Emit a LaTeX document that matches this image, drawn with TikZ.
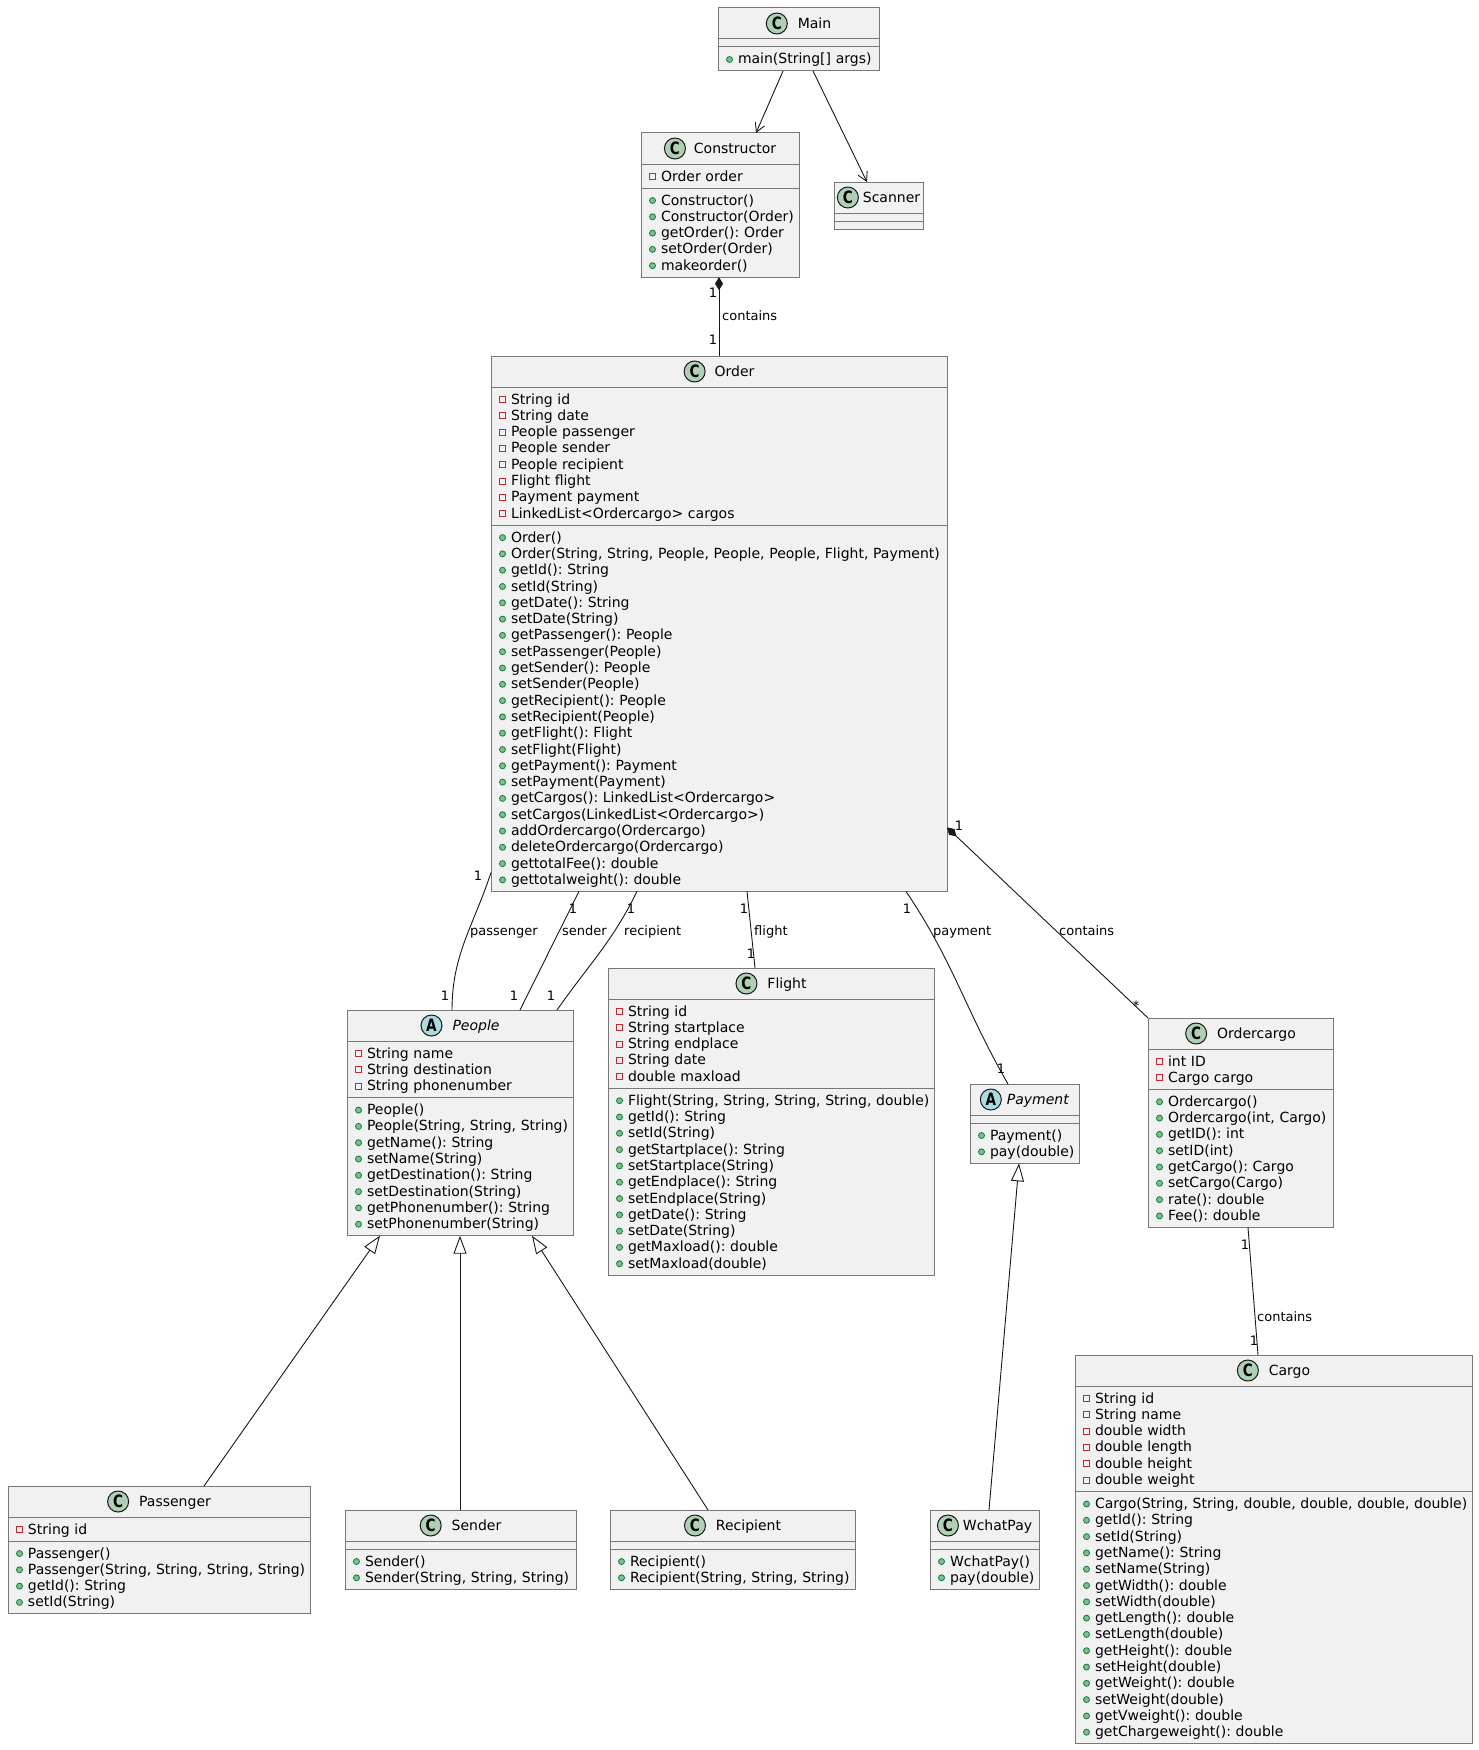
\documentclass[tikz,border=0pt]{standalone}
\usepackage{fontspec}
\setmainfont{DejaVu Sans}
\usepackage{graphicx}
\usepackage{tikz}
\usetikzlibrary{arrows.meta,positioning,calc}
\frenchspacing
\definecolor{clrFill}{RGB}{241,241,241}
\definecolor{clrBorder}{RGB}{120,120,120}
\definecolor{clrEdge}{RGB}{24,24,24}
\definecolor{clrC}{RGB}{173,209,178}
\definecolor{clrA}{RGB}{169,220,223}
\definecolor{clrPriv}{RGB}{200,41,48}
\definecolor{clrPubF}{RGB}{132,190,132}
\definecolor{clrPubD}{RGB}{3,128,72}
% one text line of a class box, with its marker
\newcommand{\mstrut}{\rule[-3pt]{0pt}{16pt}}
\newcommand{\fld}[1]{\mstrut\tikz{\useasboundingbox (0pt,0pt) rectangle (12pt,1pt);
  \draw[clrPriv,line width=1pt] (0.5pt,1.5pt) rectangle (6.5pt,7.5pt);}\mbox{#1}}
\newcommand{\mth}[1]{\mstrut\tikz{\useasboundingbox (0pt,0pt) rectangle (12pt,1pt);
  \draw[draw=clrPubD,fill=clrPubF,line width=0.8pt] (3.5pt,4.5pt) circle[radius=3pt];}\mbox{#1}}
\newcommand{\cicon}[2]{\tikz[baseline=-5pt]{\draw[draw=clrEdge,fill=#1,line width=1pt]
  (0pt,0pt) circle[radius=10.5pt];
  \pgftext{\scalebox{0.8}[1]{\fontsize{17}{17}\selectfont\bfseries #2}}}}
\tikzset{
  chead/.style={rectangle,draw=clrBorder,fill=clrFill,line width=1pt,outer sep=0pt,
    inner sep=0pt,minimum height=31pt,minimum width=#1,anchor=north west,
    font=\fontsize{14}{16.3}\selectfont},
  csec/.style={rectangle,draw=clrBorder,fill=clrFill,line width=1pt,outer sep=0pt,
    inner xsep=8pt,inner ysep=4pt,text width=#1,align=left,
    font=\fontsize{14}{16.3}\selectfont},
  cnone/.style={rectangle,draw=clrBorder,fill=clrFill,line width=1pt,outer sep=0pt,
    inner sep=0pt,minimum height=8pt,minimum width=#1},
  link/.style={draw=clrEdge,line width=0.9pt},
  depend/.style={link,-{Straight Barb[length=9pt,width=10pt]}},
  comp/.style={link,{Diamond[length=13pt,width=8pt]}-},
  inherit/.style={link,-{Triangle[length=18pt,width=13pt,fill=white]}},
  mult/.style={font=\fontsize{13}{15}\selectfont,inner sep=0pt,anchor=base},
  role/.style={font=\fontsize{13}{15}\selectfont,inner sep=0pt,anchor=base west}
}

\begin{document}
\begin{tikzpicture}[x=1pt,y=1pt]
  \path[use as bounding box,fill=white] (0,0) rectangle (1478,-1750);

  % top row
  \node[chead=161pt] (main) at (718,-8) {\cicon{clrC}{C}\hspace{10pt}Main};
  \node[cnone=161pt,below=0pt of main] (mainF) {};
  \node[csec=145pt,below=0pt of mainF] (mainM) {\mth{main(String[] args)}};

  \node[chead=158pt] (ctor) at (641,-133) {\cicon{clrC}{C}\hspace{8pt}Constructor};
  \node[csec=142pt,below=0pt of ctor] (ctorF) {\fld{Order order}};
  \node[csec=142pt,below=0pt of ctorF] (ctorM)
    {\mth{Constructor()}\\ \mth{Constructor(Order)}\\ \mth{getOrder(): Order}\\
     \mth{setOrder(Order)}\\ \mth{makeorder()}};

  \node[chead=89pt] (scan) at (834,-182) {\cicon{clrC}{C}\hspace{4pt}Scanner};
  \node[cnone=89pt,below=0pt of scan] (scanF) {};
  \node[cnone=89pt,below=0pt of scanF] (scanM) {};

  % order
  \node[chead=456pt] (order) at (491,-356) {\cicon{clrC}{C}\hspace{9pt}Order};
  \node[csec=440pt,below=0pt of order] (orderF)
    {\fld{String id}\\ \fld{String date}\\ \fld{People passenger}\\ \fld{People sender}\\
     \fld{People recipient}\\ \fld{Flight flight}\\ \fld{Payment payment}\\
     \fld{LinkedList<Ordercargo> cargos}};
  \node[csec=440pt,below=0pt of orderF] (orderM)
    {\mth{Order()}\\ \mth{Order(String, String, People, People, People, Flight, Payment)}\\
     \mth{getId(): String}\\ \mth{setId(String)}\\ \mth{getDate(): String}\\
     \mth{setDate(String)}\\ \mth{getPassenger(): People}\\ \mth{setPassenger(People)}\\
     \mth{getSender(): People}\\ \mth{setSender(People)}\\ \mth{getRecipient(): People}\\
     \mth{setRecipient(People)}\\ \mth{getFlight(): Flight}\\ \mth{setFlight(Flight)}\\
     \mth{getPayment(): Payment}\\ \mth{setPayment(Payment)}\\
     \mth{getCargos(): LinkedList<Ordercargo>}\\ \mth{setCargos(LinkedList<Ordercargo>)}\\
     \mth{addOrdercargo(Ordercargo)}\\ \mth{deleteOrdercargo(Ordercargo)}\\
     \mth{gettotalFee(): double}\\ \mth{gettotalweight(): double}};

  % middle row
  \node[chead=226pt] (people) at (347,-1010) {\cicon{clrA}{A}\hspace{10pt}\textit{People}};
  \node[csec=210pt,below=0pt of people] (peopleF)
    {\fld{String name}\\ \fld{String destination}\\ \fld{String phonenumber}};
  \node[csec=210pt,below=0pt of peopleF] (peopleM)
    {\mth{People()}\\ \mth{People(String, String, String)}\\ \mth{getName(): String}\\
     \mth{setName(String)}\\ \mth{getDestination(): String}\\ \mth{setDestination(String)}\\
     \mth{getPhonenumber(): String}\\ \mth{setPhonenumber(String)}};

  \node[chead=326pt] (flight) at (608,-968) {\cicon{clrC}{C}\hspace{10pt}Flight};
  \node[csec=310pt,below=0pt of flight] (flightF)
    {\fld{String id}\\ \fld{String startplace}\\ \fld{String endplace}\\
     \fld{String date}\\ \fld{double maxload}};
  \node[csec=310pt,below=0pt of flightF] (flightM)
    {\mth{Flight(String, String, String, String, double)}\\ \mth{getId(): String}\\
     \mth{setId(String)}\\ \mth{getStartplace(): String}\\ \mth{setStartplace(String)}\\
     \mth{getEndplace(): String}\\ \mth{setEndplace(String)}\\ \mth{getDate(): String}\\
     \mth{setDate(String)}\\ \mth{getMaxload(): double}\\ \mth{setMaxload(double)}};

  \node[chead=109pt] (pay) at (970,-1084) {\cicon{clrA}{A}\hspace{5pt}\textit{Payment}};
  \node[cnone=109pt,below=0pt of pay] (payF) {};
  \node[csec=93pt,below=0pt of payF] (payM) {\mth{Payment()}\\ \mth{pay(double)}};

  \node[chead=185pt] (ocargo) at (1148,-1018) {\cicon{clrC}{C}\hspace{10pt}Ordercargo};
  \node[csec=169pt,below=0pt of ocargo] (ocargoF) {\fld{int ID}\\ \fld{Cargo cargo}};
  \node[csec=169pt,below=0pt of ocargoF] (ocargoM)
    {\mth{Ordercargo()}\\ \mth{Ordercargo(int, Cargo)}\\ \mth{getID(): int}\\
     \mth{setID(int)}\\ \mth{getCargo(): Cargo}\\ \mth{setCargo(Cargo)}\\
     \mth{rate(): double}\\ \mth{Fee(): double}};

  \node[chead=397pt] (cargo) at (1075,-1355) {\cicon{clrC}{C}\hspace{10pt}Cargo};
  \node[csec=381pt,below=0pt of cargo] (cargoF)
    {\fld{String id}\\ \fld{String name}\\ \fld{double width}\\ \fld{double length}\\
     \fld{double height}\\ \fld{double weight}};
  \node[csec=381pt,below=0pt of cargoF] (cargoM)
    {\mth{Cargo(String, String, double, double, double, double)}\\ \mth{getId(): String}\\
     \mth{setId(String)}\\ \mth{getName(): String}\\ \mth{setName(String)}\\
     \mth{getWidth(): double}\\ \mth{setWidth(double)}\\ \mth{getLength(): double}\\
     \mth{setLength(double)}\\ \mth{getHeight(): double}\\ \mth{setHeight(double)}\\
     \mth{getWeight(): double}\\ \mth{setWeight(double)}\\ \mth{getVweight(): double}\\
     \mth{getChargeweight(): double}};

  % bottom row
  \node[chead=302pt] (pass) at (8,-1486) {\cicon{clrC}{C}\hspace{10pt}Passenger};
  \node[csec=286pt,below=0pt of pass] (passF) {\fld{String id}};
  \node[csec=286pt,below=0pt of passF] (passM)
    {\mth{Passenger()}\\ \mth{Passenger(String, String, String, String)}\\
     \mth{getId(): String}\\ \mth{setId(String)}};

  \node[chead=231pt] (send) at (345,-1510) {\cicon{clrC}{C}\hspace{10pt}Sender};
  \node[cnone=231pt,below=0pt of send] (sendF) {};
  \node[csec=215pt,below=0pt of sendF] (sendM)
    {\mth{Sender()}\\ \mth{Sender(String, String, String)}};

  \node[chead=245pt] (recip) at (610,-1510) {\cicon{clrC}{C}\hspace{10pt}Recipient};
  \node[cnone=245pt,below=0pt of recip] (recipF) {};
  \node[csec=229pt,below=0pt of recipF] (recipM)
    {\mth{Recipient()}\\ \mth{Recipient(String, String, String)}};

  \node[chead=109pt] (wpay) at (930,-1510) {\cicon{clrC}{C}\hspace{4pt}WchatPay};
  \node[cnone=109pt,below=0pt of wpay] (wpayF) {};
  \node[csec=93pt,below=0pt of wpayF] (wpayM) {\mth{WchatPay()}\\ \mth{pay(double)}};

  % connectors
  \draw[depend] ($(mainM.south west)+(65,0)$) -- ($(ctor.north west)+(115,0)$);
  \draw[depend] ($(mainM.south west)+(95,0)$) -- ($(scan.north west)+(33,0)$);
  \draw[comp] ($(ctorM.south west)+(78,0)$) -- ($(order.north west)+(228,0)$);
  \draw[link] ($(orderM.south west)+(0,19)$) to[out=-108,in=90]
    ($(people.north west)+(105,0)$);
  \draw[link] ($(orderM.south west)+(88,0)$) -- ($(people.north west)+(173,0)$);
  \draw[link] ($(orderM.south west)+(146,0)$) to[out=-116,in=55]
    ($(people.north west)+(210,0)$);
  \draw[link] ($(orderM.south west)+(256,0)$) -- ($(flight.north west)+(147,0)$);
  \draw[link] ($(orderM.south west)+(415,0)$) to[out=-56,in=120]
    ($(pay.north west)+(38,0)$);
  \draw[comp] ($(orderM.south east)+(0,64)$) -- (ocargo.north west);
  \draw[link] ($(ocargoM.south west)+(100,0)$) -- ($(cargo.north west)+(183,0)$);
  \draw[inherit] ($(pass.north west)+(196,0)$) -- ($(peopleM.south west)+(33,0)$);
  \draw[inherit] ($(send.north west)+(115,0)$) -- ($(peopleM.south west)+(113,0)$);
  \draw[inherit] ($(recip.north west)+(98,0)$) -- ($(peopleM.south west)+(185,0)$);
  \draw[inherit] ($(wpay.north west)+(59,0)$) -- ($(payM.south west)+(49,0)$);

  % connector labels
  \node[mult] (mCtor) at (713,-297) {1};
  \node[mult] (mOrdTop) at (713,-344) {1};
  \node[role] (rCtor) at (722,-320) {contains};
  \node[mult] (mPassA) at (478,-880) {1};
  \node[mult] (mPassB) at (445,-1000) {1};
  \node[role] (rPass) at (470,-935) {passenger};
  \node[mult] (mSendA) at (573,-913) {1};
  \node[mult] (mSendB) at (514,-1000) {1};
  \node[role] (rSend) at (562,-935) {sender};
  \node[mult] (mRecA) at (631,-913) {1};
  \node[mult] (mRecB) at (551,-1000) {1};
  \node[role] (rRec) at (624,-935) {recipient};
  \node[mult] (mFliA) at (744,-913) {1};
  \node[mult] (mFliB) at (751,-958) {1};
  \node[role] (rFli) at (754,-935) {flight};
  \node[mult] (mPayA) at (907,-913) {1};
  \node[mult] (mPayB) at (1001,-1073) {1};
  \node[role] (rPay) at (933,-935) {payment};
  \node[mult] (mOcA) at (959,-830) {1};
  \node[mult] (mOcB) at (1136,-1010) {*};
  \node[role] (rOc) at (1059,-935) {contains};
  \node[mult] (mCgA) at (1245,-1249) {1};
  \node[mult] (mCgB) at (1254,-1345) {1};
  \node[role] (rCg) at (1257,-1321) {contains};
\end{tikzpicture}
\end{document}
